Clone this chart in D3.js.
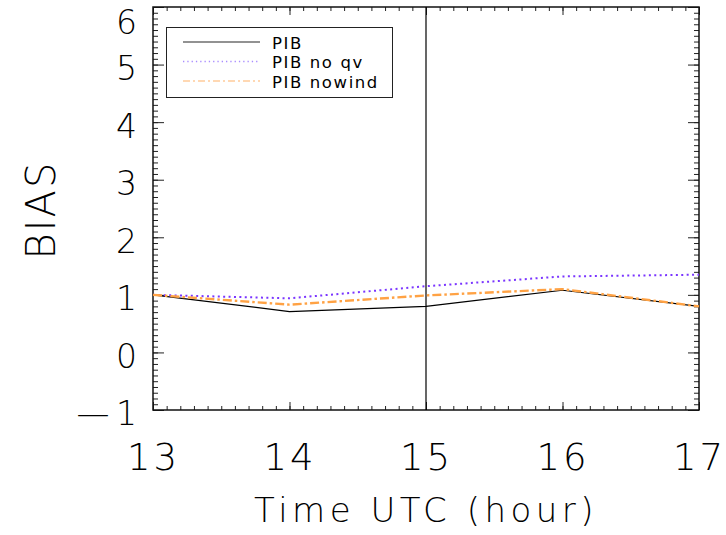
<!DOCTYPE html>
<html>
    <head>
        <script src="https://d3js.org/d3.v7.min.js"></script>
        <style>
            body{margin:0;background:#fff;}
            text{font-family:"DejaVu Sans ExtraLight","DejaVu Sans",sans-serif;font-weight:200;fill:#000;}
        </style>
    </head>
    <body>
        <svg height="535" width="726" id="chart"></svg>
        <script>
            // values
            let hours=[13, 14, 15, 16, 17];
            let pib=[1.0, 0.71, 0.80, 1.08, 0.80];
            let pibNoQv=[1.0, 0.94, 1.15, 1.32, 1.35];
            let pibNowind=[1.0, 0.83, 0.99, 1.10, 0.80];
            let yTicks=[-1, 0, 1, 2, 3, 4, 5, 6];
            let markHour=15;
            let seriesNames=["PIB", "PIB no qv", "PIB nowind"];

            let svg=d3.select("#chart");
            let plotL=153, plotR=699, plotT=7, plotB=410;

            let x=d3.scaleLinear().domain([13, 17]).range([plotL, plotR]);
            let y=d3.scaleLinear().domain([-1, 6]).range([plotB, plotT]);

            let minorX=d3.range(130, 171).map(d=>d/10);
            let minorY=d3.range(-10, 61).map(d=>d/10);

            // minor ticks on all four sides
            svg.append("g").attr("transform", "translate(0,"+plotB+")")
                .call(d3.axisBottom(x).tickValues(minorX).tickSize(-4).tickFormat(""));
            svg.append("g").attr("transform", "translate(0,"+plotT+")")
                .call(d3.axisTop(x).tickValues(minorX).tickSize(-4).tickFormat(""));
            svg.append("g").attr("transform", "translate("+plotL+",0)")
                .call(d3.axisLeft(y).tickValues(minorY).tickSize(-5).tickFormat(""));
            svg.append("g").attr("transform", "translate("+plotR+",0)")
                .call(d3.axisRight(y).tickValues(minorY).tickSize(-5).tickFormat(""));

            // major ticks
            let xAxis=svg.append("g").attr("transform", "translate(0,"+plotB+")")
                .call(d3.axisBottom(x).tickValues(hours).tickSize(-8).tickPadding(0).tickFormat(d3.format("d")));
            xAxis.selectAll("text").attr("y", 60).attr("dy", null)
                .style("font-size", "37px").style("letter-spacing", "3px");
            svg.append("g").attr("transform", "translate(0,"+plotT+")")
                .call(d3.axisTop(x).tickValues(hours).tickSize(-8).tickFormat(""));
            let yAxis=svg.append("g").attr("transform", "translate("+plotL+",0)")
                .call(d3.axisLeft(y).tickValues(yTicks).tickSize(-11).tickPadding(16)
                    .tickFormat(d=>d<0 ? "\u2014\u2009"+Math.abs(d) : d));
            yAxis.selectAll("text").style("font-size", "33px").attr("dy", "0.45em")
                .filter(d=>d==6).attr("dy", "0.8em");
            svg.append("g").attr("transform", "translate("+plotR+",0)")
                .call(d3.axisRight(y).tickValues(yTicks).tickSize(-11).tickFormat(""));

            svg.selectAll(".domain").remove();
            svg.selectAll(".tick line").attr("stroke", "#222").attr("stroke-width", 1);

            // plot frame
            svg.append("rect").attr("x", plotL).attr("y", plotT)
                .attr("width", plotR-plotL).attr("height", plotB-plotT)
                .attr("fill", "none").attr("stroke", "#111").attr("stroke-width", 1.5);

            // vertical marker
            svg.append("line").attr("x1", x(markHour)).attr("x2", x(markHour))
                .attr("y1", y(-1)).attr("y2", y(6)).attr("stroke", "#000").attr("stroke-width", 1.2);

            let line=d3.line().x((d, i)=>x(hours[i])).y(d=>y(d));

            let styles=[
                {data:pib, color:"#000", width:1.2, dash:null, legendColor:"#6e6e6e"},
                {data:pibNoQv, color:"#7a35ff", width:2, dash:"2,3.4", legendColor:"#a98cff"},
                {data:pibNowind, color:"#ffa244", width:2.4, dash:"9,3,2.5,3", legendColor:"#ffcc9a"}
            ];

            styles.forEach(s=>{
                svg.append("path").datum(s.data)
                    .attr("d", line)
                    .attr("fill", "none")
                    .attr("stroke", s.color)
                    .attr("stroke-width", s.width)
                    .attr("stroke-dasharray", s.dash);
            });

            // legend
            let legend=svg.append("g");
            legend.append("rect").attr("x", 166.5).attr("y", 27.5).attr("width", 226).attr("height", 70)
                .attr("fill", "#fff").attr("stroke", "#222").attr("stroke-width", 1);
            styles.forEach((s, i)=>{
                let ly=42+i*19.5;
                legend.append("line").attr("x1", 183).attr("x2", 260).attr("y1", ly).attr("y2", ly)
                    .attr("stroke", s.legendColor).attr("stroke-width", 1.3)
                    .attr("stroke-dasharray", s.dash ? (i==1 ? "1.3,3" : "7,3,2,3") : null);
                legend.append("text").attr("x", 272).attr("y", ly+6.5)
                    .style("font-family", "'DejaVu Sans',sans-serif").style("font-weight", "normal")
                    .style("font-size", "16.5px").style("letter-spacing", "1.6px").text(seriesNames[i]);
            });

            // axis titles
            svg.append("text").attr("x", (plotL+plotR)/2).attr("y", 522)
                .attr("text-anchor", "middle").style("font-size", "34px").style("letter-spacing", "4.5px")
                .text("Time UTC (hour)");
            svg.append("text").attr("transform", "translate(55,210) rotate(-90)")
                .attr("text-anchor", "middle").style("font-size", "40px").style("letter-spacing", "2px")
                .text("BIAS");
        </script>
    </body>
</html>
